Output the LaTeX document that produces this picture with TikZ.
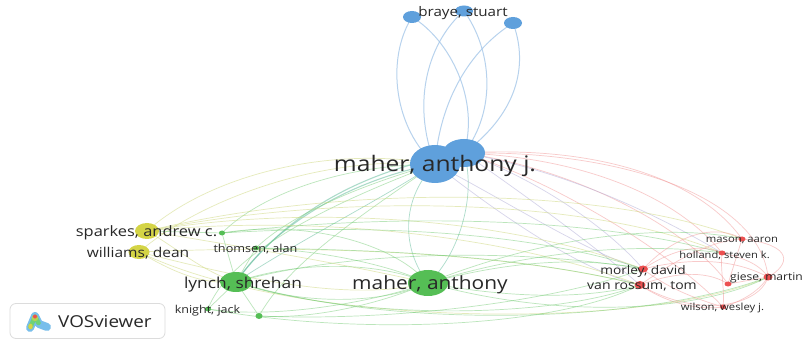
\documentclass[tikz,border=0pt]{standalone}
\usepackage{fontspec}
\newfontfamily\labfont[FakeStretch=1.15]{Open Sans}
\usetikzlibrary{shapes.geometric}
\pgfdeclarelayer{bg}\pgfdeclarelayer{edges}
\pgfsetlayers{bg,edges,main}
\definecolor{nblue}{RGB}{95,160,220}
\definecolor{ngreen}{RGB}{85,190,85}
\definecolor{nyellow}{RGB}{212,212,70}
\definecolor{nred}{RGB}{236,80,80}
\definecolor{eblue}{RGB}{160,196,232}
\definecolor{egreen}{RGB}{120,205,120}
\definecolor{eteal}{RGB}{90,185,150}
\definecolor{eyellow}{RGB}{205,215,120}
\definecolor{ered}{RGB}{242,150,150}
\definecolor{epurple}{RGB}{175,170,215}
\definecolor{labc}{RGB}{40,40,40}
\definecolor{boxc}{RGB}{220,220,220}
\definecolor{icblue}{RGB}{120,190,235}
\definecolor{icgreen}{RGB}{110,210,120}
\tikzset{
  vnode/.style={ellipse, inner sep=0pt, draw=none},
  lab/.style={text=labc, inner sep=0pt},
  ed/.style={line width=0.7pt, draw opacity=0.5},
  edb/.style={line width=1pt, draw opacity=0.75, eblue},
}
\newcommand{\fs}[1]{\labfont\fontsize{#1}{#1}\selectfont}
\begin{document}
\begin{tikzpicture}[x=1pt,y=-1pt]
\useasboundingbox (0,0) rectangle (807,342);
\begin{pgfonlayer}{bg}
\fill[white] (0,0) rectangle (807,342);
\end{pgfonlayer}
% ---------- nodes ----------
\node[vnode, fill=nblue, minimum width=42pt, minimum height=28pt] (BJ2) at (464,153) {};
\node[vnode, fill=nblue, minimum width=50pt, minimum height=38pt] (BJ1) at (435,164) {};
\node[vnode, fill=nblue, minimum width=18pt, minimum height=12pt] (B1) at (412,17) {};
\node[vnode, fill=nblue, minimum width=18pt, minimum height=11pt] (B2) at (464,11) {};
\node[vnode, fill=nblue, minimum width=18pt, minimum height=12pt] (B3) at (513,23) {};
\node[vnode, fill=nyellow, minimum width=24pt, minimum height=16pt] (SP) at (147,231) {};
\node[vnode, fill=nyellow, minimum width=21pt, minimum height=14pt] (WD) at (139,252) {};
\node[vnode, fill=ngreen, minimum width=6pt, minimum height=5pt] (G1) at (222,233) {};
\node[vnode, fill=ngreen, minimum width=6pt, minimum height=5pt] (TA) at (256,248) {};
\node[vnode, fill=ngreen, minimum width=32pt, minimum height=20pt] (LY) at (236,282) {};
\node[vnode, fill=ngreen, minimum width=6pt, minimum height=5pt] (KJ) at (208,309) {};
\node[vnode, fill=ngreen, minimum width=7pt, minimum height=6pt] (G2) at (259,316) {};
\node[vnode, fill=ngreen, minimum width=40pt, minimum height=26pt] (MA) at (428,283) {};
\node[vnode, fill=nred, minimum width=10pt, minimum height=7pt] (MD) at (643,269) {};
\node[vnode, fill=nred, minimum width=11pt, minimum height=8pt] (VR) at (640,285) {};
\node[vnode, fill=nred, minimum width=7pt, minimum height=5pt] (MN) at (742,239) {};
\node[vnode, fill=nred, minimum width=7pt, minimum height=5pt] (HS) at (722,253) {};
\node[vnode, fill=nred, minimum width=9pt, minimum height=7pt] (GM) at (768,277) {};
\node[vnode, fill=nred, minimum width=7pt, minimum height=5pt] (R6) at (728,284) {};
\node[vnode, fill=nred, minimum width=6pt, minimum height=5pt] (WW) at (723,307) {};
% ---------- edges ----------
\begin{pgfonlayer}{edges}
% blue to top
\draw[edb] (B1.center) .. controls (385,60) and (395,130) .. (BJ1.center);
\draw[edb] (B1.center) .. controls (450,40) and (480,100) .. (BJ2.center);
\draw[edb] (B2.center) .. controls (430,40) and (410,100) .. (BJ1.center);
\draw[edb] (B2.center) .. controls (492,50) and (497,110) .. (BJ2.center);
\draw[edb] (B3.center) .. controls (470,50) and (440,100) .. (BJ1.center);
\draw[edb] (B3.center) .. controls (527,60) and (522,110) .. (BJ2.center);
% blue to left
\draw[ed, eyellow] (BJ1.center) .. controls (330,145) and (210,175) .. (SP.center);
\draw[ed, eyellow] (BJ1.center) .. controls (320,155) and (200,200) .. (WD.center);
\draw[ed, egreen] (BJ1.center) .. controls (340,165) and (260,195) .. (G1.center);
\draw[ed, eteal, line width=1.1pt] (BJ1.center) .. controls (350,180) and (275,225) .. (LY.center);
\draw[ed, eteal, line width=1.1pt] (BJ2.center) .. controls (360,170) and (285,215) .. (LY.center);
\draw[ed, eteal] (BJ1.center) .. controls (380,200) and (300,240) .. (LY.center);
\draw[ed, egreen] (BJ1.center) .. controls (360,185) and (290,215) .. (TA.center);
\draw[ed, egreen] (BJ1.center) .. controls (340,200) and (230,250) .. (KJ.center);
\draw[ed, egreen] (BJ1.center) .. controls (370,210) and (290,260) .. (G2.center);
\draw[ed, eteal] (BJ1.center) .. controls (400,200) and (402,250) .. (MA.center);
\draw[ed, eteal] (BJ2.center) .. controls (478,200) and (455,260) .. (MA.center);
% blue to red
\draw[ed, ered] (BJ2.center) .. controls (600,145) and (700,180) .. (MN.center);
\draw[ed, ered] (BJ2.center) .. controls (590,158) and (680,200) .. (HS.center);
\draw[ed, ered] (BJ2.center) .. controls (630,150) and (760,200) .. (GM.center);
\draw[ed, epurple] (BJ2.center) .. controls (540,180) and (610,230) .. (MD.center);
\draw[ed, epurple] (BJ2.center) .. controls (525,195) and (600,250) .. (VR.center);
\draw[ed, epurple] (BJ1.center) .. controls (505,200) and (590,255) .. (MD.center);
\draw[ed, epurple] (BJ1.center) .. controls (500,215) and (580,270) .. (VR.center);
\draw[ed, ered] (BJ2.center) .. controls (580,170) and (690,230) .. (R6.center);
\draw[ed, ered] (BJ2.center) .. controls (565,185) and (680,260) .. (WW.center);
\draw[ed, epurple] (BJ2.center) .. controls (560,170) and (650,210) .. (HS.center);
% left to right long arcs
\draw[ed, eyellow] (SP.center) .. controls (300,205) and (500,215) .. (MD.center);
\draw[ed, eyellow] (SP.center) .. controls (300,215) and (500,232) .. (VR.center);
\draw[ed, eyellow] (WD.center) .. controls (300,245) and (500,250) .. (VR.center);
\draw[ed, eyellow] (SP.center) .. controls (350,190) and (600,200) .. (HS.center);
\draw[ed, eyellow] (SP.center) .. controls (360,180) and (620,190) .. (MN.center);
\draw[ed, eyellow] (WD.center) .. controls (300,330) and (650,330) .. (GM.center);
\draw[ed, egreen] (G1.center) .. controls (350,225) and (520,228) .. (MD.center);
\draw[ed, egreen] (G1.center) .. controls (400,212) and (600,218) .. (HS.center);
\draw[ed, egreen] (TA.center) .. controls (380,250) and (520,255) .. (VR.center);
\draw[ed, egreen] (LY.center) .. controls (350,250) and (520,248) .. (MD.center);
\draw[ed, egreen] (LY.center) .. controls (350,320) and (550,320) .. (VR.center);
\draw[ed, egreen] (LY.center) .. controls (400,332) and (650,322) .. (GM.center);
\draw[ed, egreen] (KJ.center) .. controls (350,335) and (550,330) .. (VR.center);
\draw[ed, egreen] (G2.center) .. controls (400,322) and (560,300) .. (MD.center);
\draw[ed, egreen] (MA.center) .. controls (520,258) and (590,258) .. (MD.center);
\draw[ed, egreen] (MA.center) .. controls (520,300) and (590,298) .. (VR.center);
\draw[ed, egreen] (MA.center) .. controls (540,248) and (650,243) .. (HS.center);
\draw[ed, egreen] (MA.center) .. controls (560,320) and (700,312) .. (GM.center);
\draw[ed, egreen] (MA.center) .. controls (560,230) and (680,225) .. (MN.center);
\draw[ed, eyellow] (SP.center) .. controls (250,248) and (350,265) .. (MA.center);
\draw[ed, eyellow] (WD.center) .. controls (250,280) and (350,302) .. (MA.center);
\draw[ed, eyellow] (SP.center) .. controls (180,250) and (200,270) .. (LY.center);
\draw[ed, eyellow] (WD.center) .. controls (170,270) and (200,285) .. (LY.center);
\draw[ed, egreen] (SP.center) -- (G1.center);
\draw[ed, egreen] (LY.center) .. controls (300,305) and (380,305) .. (MA.center);
\draw[ed, egreen] (LY.center) .. controls (300,260) and (380,262) .. (MA.center);
\draw[ed, egreen] (LY.center) -- (TA.center);
\draw[ed, egreen] (LY.center) -- (KJ.center);
\draw[ed, egreen] (LY.center) -- (G2.center);
\draw[ed, egreen] (LY.center) -- (G1.center);
\draw[ed, egreen] (KJ.center) .. controls (280,320) and (380,300) .. (MA.center);
\draw[ed, egreen] (G2.center) .. controls (320,320) and (390,300) .. (MA.center);
\draw[ed, egreen] (G1.center) .. controls (300,220) and (390,240) .. (MA.center);
\draw[ed, egreen] (TA.center) .. controls (320,250) and (390,265) .. (MA.center);
% red cluster
\draw[ed, ered] (MD.center) .. controls (680,230) and (720,225) .. (MN.center);
\draw[ed, ered] (MD.center) .. controls (680,245) and (705,245) .. (HS.center);
\draw[ed, ered] (MD.center) .. controls (700,255) and (740,262) .. (GM.center);
\draw[ed, ered] (VR.center) .. controls (700,320) and (760,305) .. (GM.center);
\draw[ed, ered] (VR.center) .. controls (680,270) and (710,272) .. (R6.center);
\draw[ed, ered] (VR.center) .. controls (670,305) and (700,310) .. (WW.center);
\draw[ed, ered] (MD.center) .. controls (670,290) and (700,300) .. (WW.center);
\draw[ed, ered] (MN.center) .. controls (795,245) and (790,265) .. (GM.center);
\draw[ed, ered] (HS.center) .. controls (745,258) and (760,265) .. (GM.center);
\draw[ed, ered] (R6.center) -- (GM.center);
\draw[ed, ered] (WW.center) .. controls (745,300) and (760,290) .. (GM.center);
\draw[ed, ered] (HS.center) .. controls (720,270) and (725,290) .. (WW.center);
\draw[ed, ered] (MN.center) -- (R6.center);
\draw[ed, ered] (VR.center) .. controls (690,250) and (720,240) .. (MN.center);
\end{pgfonlayer}
% ---------- labels ----------
\node[lab, font=\fs{21.4}] (lBJ) at (435,166) {maher, anthony j.};
\node[lab, font=\fs{13.2}] (lB) at (463,13) {braye, stuart};
\node[lab, font=\fs{14.3}] (lSP) at (146.5,233) {sparkes, andrew c.};
\node[lab, font=\fs{13.5}] (lWD) at (138,253) {williams, dean};
\node[lab, font=\fs{11}] (lTA) at (255.5,249) {thomsen, alan};
\node[lab, font=\fs{15.1}] (lLY) at (243,285) {lynch, shrehan};
\node[lab, font=\fs{10.9}] (lKJ) at (207.5,311) {knight, jack};
\node[lab, font=\fs{18.2}] (lMA) at (430,285) {maher, anthony};
\node[lab, font=\fs{11.9}] (lMD) at (643,271) {morley, david};
\node[lab, font=\fs{12.2}] (lVR) at (642,286) {van rossum, tom};
\node[lab, font=\fs{9.8}] (lMN) at (742,240) {mason, aaron};
\node[lab, font=\fs{9.7}] (lHS) at (724.5,255) {holland, steven k.};
\node[lab, font=\fs{10.5}, anchor=west] (lGM) at (730,278) {giese, martin};
\node[lab, font=\fs{9.8}] (lWW) at (722.5,308) {wilson, wesley j.};
% ---------- logo ----------
\node[draw=boxc, line width=0.8pt, rounded corners=6pt, fill=white, minimum width=155pt, minimum height=35pt, inner sep=0pt] (logo) at (87.5,321) {};
\draw[icblue, line width=8pt, line cap=round, line join=round] (30,328) -- (35,316) -- (39,324) -- (47,327);
\draw[icgreen, line width=4.5pt, line cap=round, line join=round] (30.5,327) -- (35,316.5) -- (38.5,323);
\fill[nyellow] (30.5,326.5) ellipse (2.2pt and 2.8pt);
\fill[nyellow!70!icgreen] (35,318) circle (3.2pt);
\fill[nred] (35,316.5) circle (2pt);
\node[lab, font=\fs{16.4}, anchor=west] (lLogo) at (58,322) {VOSviewer};
\end{tikzpicture}
\end{document}
